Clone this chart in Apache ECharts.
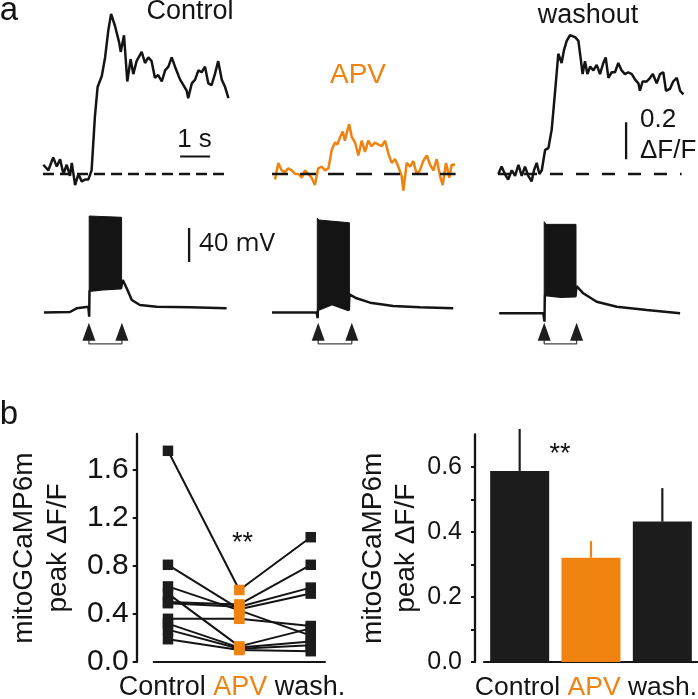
<!DOCTYPE html>
<html><head><meta charset="utf-8">
<script src="https://cdn.jsdelivr.net/npm/echarts@6/dist/echarts.min.js"></script>
<style>html,body{margin:0;padding:0;background:#fff}#c{width:698px;height:699px}</style>
</head><body><div id="c"></div>
<script>
// ---------- Panel a: mitoGCaMP6m traces (time s, dF/F) ----------
const ctrlDF = [[0.01,0.05],[0.18,0.02],[0.34,0.09],[0.46,0.04],[0.57,0.08],[0.68,0.00],[0.79,0.05],[0.90,-0.01],[0.96,0.06],[1.07,-0.06],[1.18,0.00],[1.29,-0.04],[1.40,-0.03],[1.51,-0.03],[1.62,0.02],[1.73,0.31],[1.82,0.47],[1.96,0.53],[2.07,0.63],[2.18,0.78],[2.27,0.865],[2.40,0.80],[2.54,0.71],[2.59,0.66],[2.70,0.75],[2.81,0.50],[2.92,0.62],[3.01,0.54],[3.12,0.61],[3.29,0.66],[3.40,0.60],[3.51,0.63],[3.62,0.61],[3.73,0.52],[3.84,0.535],[3.96,0.50],[4.07,0.56],[4.18,0.58],[4.29,0.63],[4.40,0.58],[4.57,0.51],[4.68,0.48],[4.79,0.45],[4.84,0.41],[4.96,0.49],[5.07,0.51],[5.18,0.56],[5.29,0.55],[5.40,0.58],[5.51,0.49],[5.62,0.48],[5.73,0.54],[5.84,0.61],[5.96,0.51],[6.07,0.47],[6.18,0.41]];
const apvDF = [[0.10,-0.03],[0.21,0.06],[0.32,0.02],[0.43,0.01],[0.54,0.03],[0.66,0.02],[0.77,0.00],[0.88,0.00],[0.99,-0.02],[1.10,0.02],[1.21,0.00],[1.32,-0.02],[1.43,-0.06],[1.54,0.03],[1.66,0.04],[1.77,0.02],[1.88,0.03],[1.99,0.13],[2.10,0.17],[2.18,0.16],[2.27,0.20],[2.36,0.23],[2.43,0.18],[2.49,0.22],[2.57,0.27],[2.66,0.20],[2.77,0.17],[2.88,0.10],[2.99,0.18],[3.10,0.12],[3.21,0.18],[3.32,0.15],[3.43,0.17],[3.54,0.16],[3.66,0.15],[3.77,0.18],[3.88,0.11],[3.99,0.06],[4.10,0.08],[4.21,0.04],[4.32,-0.01],[4.38,-0.09],[4.49,0.06],[4.60,0.04],[4.71,0.07],[4.82,0.00],[4.93,0.02],[5.04,0.07],[5.16,0.10],[5.27,0.05],[5.38,0.02],[5.49,0.08],[5.60,-0.01],[5.69,-0.06],[5.80,0.06],[5.91,-0.02],[5.99,0.05],[6.10,0.05]];
const washDF = [[0.01,0.00],[0.12,0.04],[0.23,0.00],[0.34,-0.03],[0.46,0.02],[0.57,-0.01],[0.68,0.05],[0.79,-0.01],[0.90,0.04],[1.01,-0.01],[1.12,-0.04],[1.20,0.02],[1.29,0.06],[1.38,0.00],[1.46,0.02],[1.57,0.13],[1.68,0.14],[1.79,0.24],[1.90,0.44],[2.01,0.65],[2.12,0.60],[2.20,0.67],[2.29,0.72],[2.40,0.75],[2.57,0.74],[2.68,0.72],[2.76,0.62],[2.82,0.54],[2.90,0.61],[2.98,0.54],[3.07,0.58],[3.18,0.56],[3.29,0.59],[3.40,0.54],[3.51,0.60],[3.59,0.63],[3.68,0.52],[3.79,0.55],[3.90,0.55],[4.01,0.60],[4.12,0.56],[4.23,0.54],[4.34,0.55],[4.46,0.54],[4.57,0.51],[4.68,0.49],[4.73,0.45],[4.82,0.50],[4.96,0.50],[5.07,0.52],[5.16,0.54],[5.29,0.49],[5.40,0.54],[5.51,0.55],[5.60,0.45],[5.73,0.46],[5.84,0.50],[5.96,0.52],[6.07,0.45],[6.18,0.43]];
const baselineDF = [[0,0],[6.12,0]];

// ---------- Panel a: membrane potential (time s, mV relative to rest) ----------
const ctrlVm = [[0.03,0],[0.9,0.6],[1.12,4.9],[1.51,6.8],[1.54,-4.9],[1.55,25.6],[2.0,27.3],[2.6,28.5],[2.66,38.2],[2.79,28.5],[2.96,14.7],[3.23,8.8],[3.79,6.8],[4.9,6.1],[6.12,4.9]];
const ctrlBurstTop = [[1.54,113.5],[2.62,112]];
const ctrlBurstBottom = [[1.54,25.6],[2.0,27.3],[2.62,28.5]];
const apvVm = [[0,0],[1.49,0],[1.52,-6.6],[1.53,3],[2.0,10],[2.56,3],[2.58,21.4],[2.82,16.7],[3.27,11.6],[4.04,7.6],[4.93,6.1],[6.04,4.9]];
const apvBurstTop = [[1.51,110.8],[1.56,108.8],[2.58,105.6]];
const apvBurstBottom = [[1.51,3],[2.0,10],[2.58,3]];
const washVm = [[0.04,-1],[1.51,-1],[1.55,-10.8],[1.56,20.6],[2.1,18.6],[2.58,19],[2.62,31.2],[2.84,22.6],[3.29,12.7],[3.96,6.8],[4.96,2.9],[6.07,-1]];
const washBurstTop = [[1.54,106.8],[1.6,103.7],[2.6,103.7]];
const washBurstBottom = [[1.54,20.6],[2.1,18.6],[2.6,19]];
const stimCtrl = [1.53, 2.63];
const stimApv = [1.54, 2.66];
const stimWash = [1.54, 2.62];

// scale bars
const scaleTime = [[4.57,0.094],[5.57,0.094]];      // 1 s
const scaleDF = [[4.27,0.08],[4.27,0.28]];          // 0.2 dF/F
const scaleVm = [[4.87,59.4],[4.87,99.4]];          // 40 mV

// ---------- Panel b ----------
const categories = ['Control','APV','wash.'];
const ctrlPeak = [1.76,0.81,0.63,0.57,0.50,0.49,0.36,0.32,0.27,0.19];
const apvPeak  = [0.60,0.44,0.43,0.13,0.48,0.46,0.36,0.12,0.11,0.10];
const washPeak = [1.04,0.57,0.22,0.28,0.81,0.62,0.30,0.17,0.14,0.09];
const meanPeak = [0.588,0.321,0.432];
const semPeak  = [0.129,0.051,0.103];
const yTicksLeft = [0,0.4,0.8,1.2,1.6];
const yTicksRight = [0,0.2,0.4,0.6];
const yMinorRight = [0,0.1,0.2,0.3,0.4,0.5,0.6];

// ---------- styling ----------
const BLACK = '#141414', ORANGE = '#f0820f';
const FONT = 'Liberation Sans, Arial, sans-serif';

const chart = echarts.init(document.getElementById('c'), null, {renderer:'canvas'});

const traceLefts = [43, 272, 498];
const grids = [];
const xAxes = [], yAxes = [];
traceLefts.forEach(l => {
  const g = grids.length;
  grids.push({left:l, top:7.5, width:186, height:185});
  xAxes.push({gridIndex:g, type:'value', min:0, max:6.2, show:false});
  yAxes.push({gridIndex:g, type:'value', min:-0.1, max:0.9, show:false});
});
traceLefts.forEach(l => {
  const g = grids.length;
  grids.push({left:l, top:210.5, width:186, height:140.25});
  xAxes.push({gridIndex:g, type:'value', min:0, max:6.2, show:false});
  yAxes.push({gridIndex:g, type:'value', min:-45, max:120, show:false});
});
// left scatter
grids.push({left:153.7, top:434, width:171.3, height:228});
xAxes.push({gridIndex:6, type:'value', min:-0.2, max:2.2, axisLine:{show:true, onZero:false, lineStyle:{color:BLACK,width:2}},
  axisTick:{show:false}, axisLabel:{show:false}, splitLine:{show:false}});
yAxes.push({gridIndex:6, type:'value', min:0, max:1.9, interval:0.4, offset:17,
  axisLine:{show:true, onZero:false, lineStyle:{color:BLACK,width:2.3}},
  axisTick:{show:true, length:4, customValues:yTicksLeft, lineStyle:{color:BLACK,width:2}},
  axisLabel:{show:true, customValues:yTicksLeft, margin:8, fontSize:30, color:BLACK, fontFamily:FONT,
    formatter:v=>v.toFixed(1)},
  splitLine:{show:false},
  name:'mitoGCaMP6m\npeak ΔF/F', nameLocation:'middle', nameGap:62,
  nameTextStyle:{fontSize:28, lineHeight:33.5, color:BLACK, fontFamily:FONT}});
// right bars
grids.push({left:484, top:434.5, width:214, height:227.5});
xAxes.push({gridIndex:7, type:'category', data:categories, axisLine:{show:true, lineStyle:{color:BLACK,width:2}},
  axisTick:{show:false}, axisLabel:{show:false}});
yAxes.push({gridIndex:7, type:'value', min:0, max:0.7, interval:0.2, offset:9,
  axisLine:{show:true, onZero:false, lineStyle:{color:BLACK,width:2.3}},
  axisTick:{show:true, length:4, customValues:yMinorRight, lineStyle:{color:BLACK,width:2}},
  axisLabel:{show:true, customValues:yTicksRight, margin:13, fontSize:25, color:BLACK, fontFamily:FONT,
    formatter:v=>v.toFixed(1)},
  splitLine:{show:false},
  name:'mitoGCaMP6m\npeak ΔF/F', nameLocation:'middle', nameGap:51,
  nameTextStyle:{fontSize:28, lineHeight:33.5, color:BLACK, fontFamily:FONT}});

function trace(idx, data, color, width) {
  return {type:'line', xAxisIndex:idx, yAxisIndex:idx, data:data, showSymbol:false, symbol:'none',
    lineStyle:{color:color, width:width||2.5}, animation:false, z:3};
}
function dashed(idx, dash) {
  return {type:'line', xAxisIndex:idx, yAxisIndex:idx, data:baselineDF, symbol:'none',
    lineStyle:{color:BLACK, width:2.5, type:dash}, animation:false, z:4};
}
function burst(idx, top, bottom) {
  const poly = top.concat(bottom.slice().reverse());
  return {type:'custom', xAxisIndex:idx, yAxisIndex:idx, data:[top[0]], animation:false, z:3, clip:false,
    renderItem:(p, api) => ({type:'polygon', shape:{points: poly.map(d => api.coord(d))},
      style:{fill:BLACK, stroke:BLACK, lineWidth:1}})};
}
function arrows(idx, stim) {
  const lvl = -22.6, br = -37, brTop = -32;
  return [
    {type:'line', xAxisIndex:idx, yAxisIndex:idx, symbol:'none', animation:false,
      data:[[stim[0],brTop],[stim[0],br],[stim[1],br],[stim[1],brTop]],
      lineStyle:{color:'#444', width:1.3}},
    {type:'scatter', xAxisIndex:idx, yAxisIndex:idx, symbol:'triangle', symbolSize:[13,18], animation:false,
      data:stim.map(t => [t, lvl]), itemStyle:{color:'#1e1e1e', opacity:1}, z:5}
  ];
}
function bar(idx, data, w) {
  return {type:'line', xAxisIndex:idx, yAxisIndex:idx, data:data, symbol:'none', animation:false,
    lineStyle:{color:BLACK, width:w||2}};
}

const series = [
  dashed(0,[11,6]), dashed(1,[16,12]), dashed(2,[13,13]),
  trace(0, ctrlDF, BLACK), trace(1, apvDF, ORANGE), trace(2, washDF, BLACK),
  bar(0, scaleTime, 2), bar(2, scaleDF, 2.3), bar(3, scaleVm, 2.3),
  trace(3, ctrlVm, BLACK), trace(4, apvVm, BLACK), trace(5, washVm, BLACK),
  burst(3, ctrlBurstTop, ctrlBurstBottom), burst(4, apvBurstTop, apvBurstBottom), burst(5, washBurstTop, washBurstBottom),
  ...arrows(3, stimCtrl), ...arrows(4, stimApv), ...arrows(5, stimWash)
];
// paired lines
ctrlPeak.forEach((c, i) => {
  series.push({type:'line', xAxisIndex:6, yAxisIndex:6, symbol:'none', animation:false,
    data:[[0,c],[1,apvPeak[i]],[2,washPeak[i]]], lineStyle:{color:BLACK, width:2}, z:2});
});
series.push({type:'scatter', xAxisIndex:6, yAxisIndex:6, symbol:'rect', symbolSize:10.5, animation:false,
  data:ctrlPeak.map(v=>[0,v]), itemStyle:{color:'#1c1c1c', opacity:1}, z:4});
series.push({type:'scatter', xAxisIndex:6, yAxisIndex:6, symbol:'rect', symbolSize:10.5, animation:false,
  data:apvPeak.map(v=>[1,v]), itemStyle:{color:ORANGE, opacity:1}, z:4});
series.push({type:'scatter', xAxisIndex:6, yAxisIndex:6, symbol:'rect', symbolSize:10.5, animation:false,
  data:washPeak.map(v=>[2,v]), itemStyle:{color:'#1c1c1c', opacity:1}, z:4});
// bars
series.push({type:'bar', xAxisIndex:7, yAxisIndex:7, barWidth:59, animation:false,
  data:meanPeak.map((v,i)=>({value:v, itemStyle:{color: i===1 ? ORANGE : '#1c1c1c'}})), z:2});
series.push({type:'custom', xAxisIndex:7, yAxisIndex:7, animation:false, z:3, clip:false,
  data:meanPeak.map((v,i)=>[i, v, semPeak[i]]),
  renderItem:(p, api) => {
    const a = api.coord([api.value(0), api.value(1)]);
    const b = api.coord([api.value(0), api.value(1) + api.value(2)]);
    return {type:'line', shape:{x1:a[0], y1:a[1], x2:b[0], y2:b[1]}, style:{stroke: p.dataIndex===1 ? ORANGE : '#1c1c1c', lineWidth:2.2}};
  }});

function txt(x, y, s, opt) {
  return Object.assign({type:'text', x:x, y:y, style:Object.assign({text:s, fontSize:27, fontFamily:FONT,
    fill:BLACK, align:'center', verticalAlign:'middle'}, opt||{})});
}
const graphic = [
  txt(9, 11, 'a', {fontSize:33}),
  txt(9, 415, 'b', {fontSize:33}),
  txt(190, 12, 'Control'),
  txt(358, 75, 'APV', {fill:ORANGE, fontSize:28}),
  txt(588, 15.5, 'washout'),
  txt(194.5, 139.5, '1 s', {fontSize:26}),
  txt(640, 120, '0.2', {align:'left', fontSize:26}),
  txt(640, 151, 'ΔF/F', {align:'left', fontSize:26}),
  txt(199, 244, '40 mV', {align:'left', fontSize:26, fontFamily:'Open Sans, sans-serif'}),
  txt(242.5, 543.5, '**'),
  txt(560, 454.5, '**'),
  {type:'text', x:232, y:688, style:{text:'{k|Control} {o|APV} {k|wash.}', align:'center', verticalAlign:'middle',
    fontSize:27, fontFamily:FONT, rich:{k:{fill:BLACK, fontSize:27, fontFamily:FONT}, o:{fill:ORANGE, fontSize:27, fontFamily:FONT}}}},
  {type:'text', x:586, y:688, style:{text:'{k|Control} {o|APV} {k|wash.}', align:'center', verticalAlign:'middle',
    fontSize:26.5, fontFamily:FONT, rich:{k:{fill:BLACK, fontSize:26.5, fontFamily:FONT}, o:{fill:ORANGE, fontSize:26.5, fontFamily:FONT}}}}
];

chart.setOption({animation:false, backgroundColor:'#fff', grid:grids, xAxis:xAxes, yAxis:yAxes, series:series, graphic:graphic});
</script>
</body></html>
